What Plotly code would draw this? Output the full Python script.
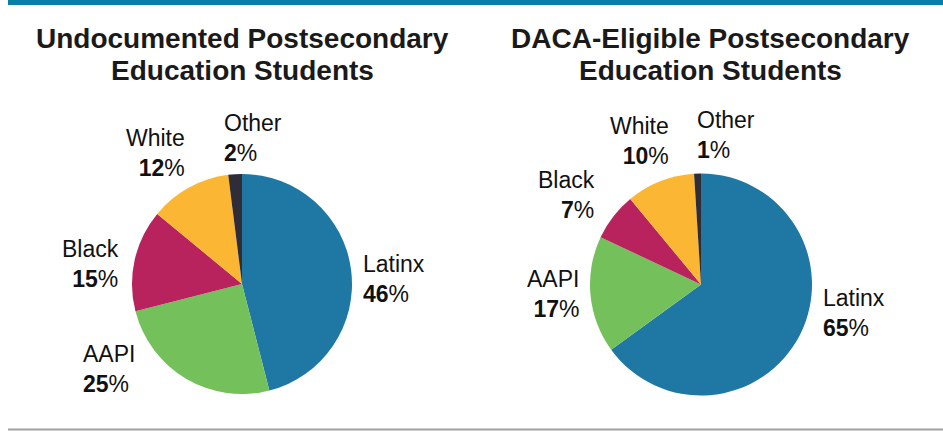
import plotly.graph_objects as go

W, H = 943, 432

# ---- data ----
categories = ["Latinx", "AAPI", "Black", "White", "Other"]
undocumented_pct = [46, 25, 15, 12, 2]
daca_pct = [65, 17, 7, 10, 1]
colors = ["#1f78a4", "#74c15b", "#b8235d", "#fbb634", "#2e2d38"]
titles = [["Undocumented Postsecondary", "Education Students"],
          ["DACA-Eligible Postsecondary", "Education Students"]]

FONT = "Liberation Sans, Arial, Helvetica, sans-serif"


def px(x):
    return x / W


def py(y):
    return 1 - y / H


fig = go.Figure()

# pie domains in pixel space (left, top, right, bottom)
domains = [(132, 174, 352, 394), (590, 173.5, 812, 395.5)]
for vals, (l, t, r, b) in zip([undocumented_pct, daca_pct], domains):
    fig.add_trace(go.Pie(
        labels=categories, values=vals, sort=False, direction="clockwise",
        rotation=0, marker=dict(colors=colors, line=dict(width=0)),
        textinfo="none", hoverinfo="label+percent", showlegend=False,
        domain=dict(x=[px(l), px(r)], y=[py(b), py(t)]),
    ))

annotations = []
# titles
for cx, lines in zip([243, 710.5], titles):
    for yy, line in zip([38, 70.5], lines):
        annotations.append(dict(
            x=px(cx), y=py(yy), xref="paper", yref="paper", text=f"<b>{line}</b>",
            showarrow=False, xanchor="center", yanchor="middle",
            font=dict(family=FONT, size=28, color="#1a1a1a")))

# slice label placement (x, y-center, anchor) per category, per chart
label_pos = [
    {"Latinx": (361, 278.5, "left"), "AAPI": (81, 368.5, "left"),
     "Black": (121, 263.5, "right"), "White": (187, 153, "right"),
     "Other": (222, 138, "left")},
    {"Latinx": (821, 312.5, "left"), "AAPI": (581, 294, "right"),
     "Black": (597, 195, "right"), "White": (671, 141, "right"),
     "Other": (695, 134.5, "left")},
]
for vals, pos in zip([undocumented_pct, daca_pct], label_pos):
    for cat, v in zip(categories, vals):
        x, y, anc = pos[cat]
        annotations.append(dict(
            x=px(x), y=py(y), xref="paper", yref="paper",
            text=f"{cat}<br><b>{v}</b>%", showarrow=False,
            xanchor=anc, yanchor="middle", align=anc,
            font=dict(family=FONT, size=23, color="#111111")))

shapes = [
    dict(type="rect", xref="paper", yref="paper", x0=px(8), x1=1, y0=py(5), y1=1,
         fillcolor="#0a7fa6", line=dict(width=0)),
    dict(type="line", xref="paper", yref="paper", x0=px(8), x1=1, y0=py(429.5), y1=py(429.5),
         line=dict(color="#a0a0a0", width=2)),
]

fig.update_layout(
    width=W, height=H, margin=dict(l=0, r=0, t=0, b=0),
    paper_bgcolor="white", plot_bgcolor="white",
    annotations=annotations, shapes=shapes,
)

fig.write_html(
    "out.html",
    config={"displayModeBar": False},
    post_script="document.body.style.margin='0';document.body.style.overflow='hidden';",
)
